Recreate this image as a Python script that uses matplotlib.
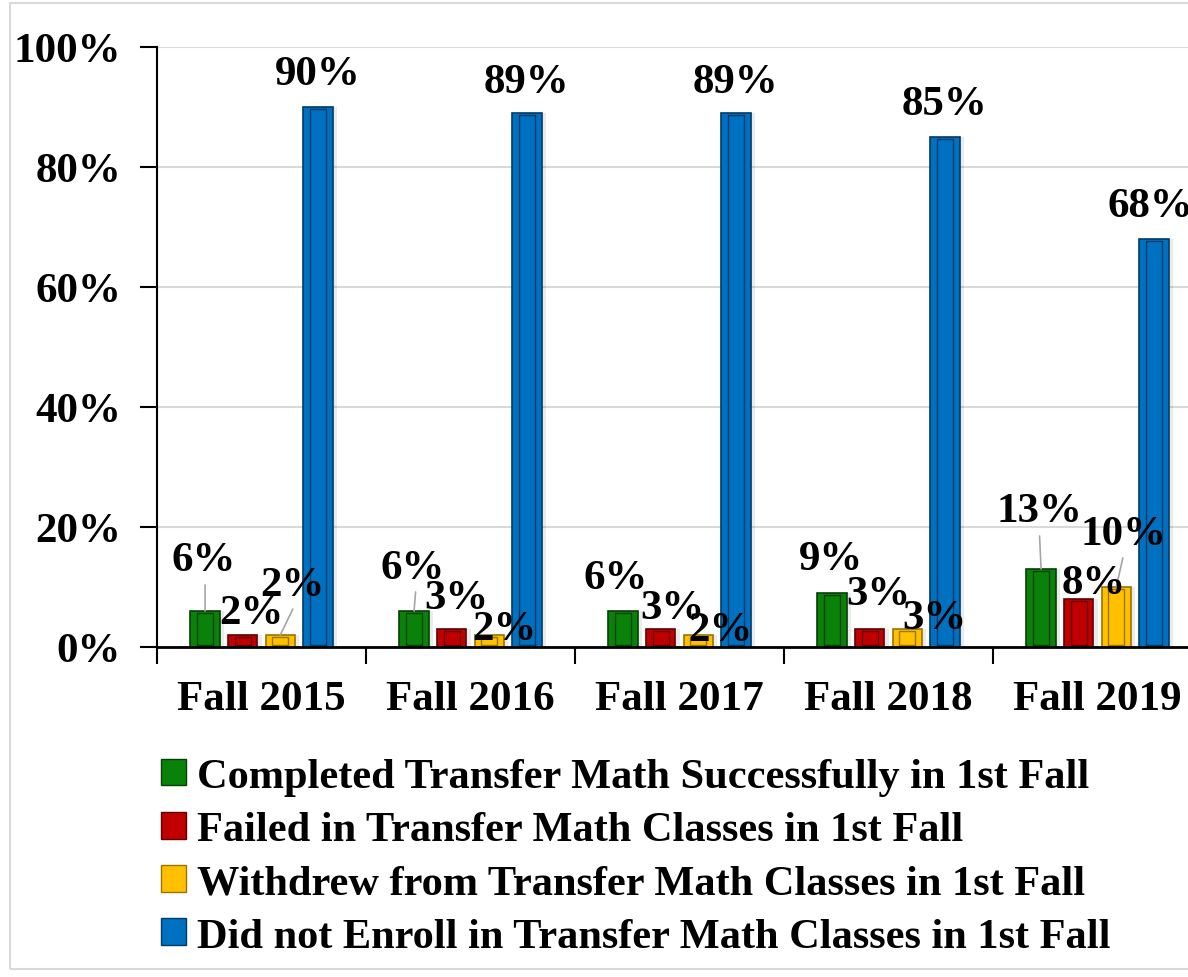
import matplotlib.pyplot as plt
from matplotlib.patches import Rectangle, Patch
import numpy as np

# data (percent)
years = ['Fall 2015', 'Fall 2016', 'Fall 2017', 'Fall 2018', 'Fall 2019']
completed = [6, 6, 6, 9, 13]
failed = [2, 3, 3, 3, 8]
withdrew = [2, 2, 2, 3, 10]
not_enrolled = [90, 89, 89, 85, 68]

series_names = ['Completed Transfer Math Successfully in 1st Fall',
                'Failed in Transfer Math Classes in 1st Fall',
                'Withdrew from Transfer Math Classes in 1st Fall',
                'Did not Enroll in Transfer Math Classes in 1st Fall']
colors = ['#0A820A', '#C00000', '#FFC000', '#0070C0']
edges = ['#054005', '#600000', '#9A7400', '#003A66']

# label offsets in pixels from the bar top (dx, dy)
label_offsets = [
    [(-1, 51), (9, 22), (12, 50), (0, 33)],
    [(-1, 43), (5, 31), (15, 6), (0, 31)],
    [(-7, 33), (12, 21), (22, 5), (0, 31)],
    [(-1, 34), (9, 35), (27, 11), (0, 33)],
    [(-2, 58), (15, 16), (7, 53), (-4, 33)],
]
# leader lines: (group, series) -> start offset from the bar top
leaders = {(0, 0): (0, 26), (1, 0): (1.5, 19), (0, 2): (12.5, 26),
           (4, 0): (-1.5, 33), (4, 2): (6.5, 29)}

plt.rcParams['font.family'] = ['Liberation Serif', 'DejaVu Serif']
plt.rcParams['font.weight'] = 'bold'
fs = 31

fig = plt.figure(figsize=(11.88, 9.78), dpi=100)
fig.patches.append(Rectangle((10 / 1188, 8 / 978), 1.2, 966 / 978, transform=fig.transFigure,
                             fill=False, edgecolor='#D9D9D9', linewidth=1.5))
ax = fig.add_axes([157 / 1188, 1 - 648 / 978, 1045 / 1188, 600 / 978])

values = [completed, failed, withdrew, not_enrolled]
x = np.arange(len(years))
step = 0.18
width = 0.14
for s, vals in enumerate(values):
    pos = x + (s - 1.5) * step
    # soft shadow to the right
    ax.bar(pos + 0.02, vals, width, color='#000000', alpha=0.08, zorder=2)
    ax.bar(pos, vals, width, color=colors[s], edgecolor=edges[s], linewidth=1.2, zorder=3)
    # inner bevel
    ax.bar(pos, np.array(vals) - 0.6, width * 0.55, bottom=0.3, color='none',
           edgecolor=edges[s], linewidth=1.0, zorder=4)
    for i, v in enumerate(vals):
        dx, dy = label_offsets[i][s]
        ax.annotate(f'{v}%', (pos[i], v), xytext=(dx, dy), textcoords='offset pixels',
                    ha='center', va='center', fontsize=fs, fontweight='bold', zorder=6)
        if (i, s) in leaders:
            ax.annotate('', (pos[i], v), xytext=leaders[(i, s)], textcoords='offset pixels',
                        arrowprops=dict(arrowstyle='-', color='#A6A6A6', lw=1.2,
                                        shrinkA=0, shrinkB=0), zorder=5)

ax.set_xlim(-0.5, len(years) - 0.5)
ax.set_ylim(0, 100)
ax.set_yticks(range(0, 101, 20))
ax.set_yticklabels([f'{t}%' for t in range(0, 101, 20)], fontsize=fs, fontweight='bold')
ax.set_xticks(x)
ax.set_xticklabels(years, fontsize=fs, fontweight='bold')
ax.set_xticks(np.arange(len(years) + 1) - 0.5, minor=True)
ax.tick_params(axis='x', which='major', length=0, pad=24)
ax.tick_params(axis='x', which='minor', length=12, width=1.5, direction='out')
ax.tick_params(axis='y', length=12, width=1.5, pad=14)
ax.yaxis.grid(True, color='#D9D9D9', linewidth=1.5, zorder=0)
ax.set_axisbelow(True)
for sp in ['top', 'right']:
    ax.spines[sp].set_visible(False)
ax.spines['left'].set_linewidth(1.5)
ax.spines['bottom'].set_linewidth(2)
ax.spines['bottom'].set_zorder(7)

handles = [Patch(facecolor=colors[s], edgecolor=edges[s]) for s in range(4)]
fig.legend(handles, series_names, loc='upper left', bbox_to_anchor=(144 / 1188, 1 - 742 / 978),
           frameon=False, prop={'weight': 'bold', 'size': 30.5},
           handlelength=0.6, handleheight=0.6, handletextpad=0.25, labelspacing=0.36,
           borderaxespad=0)

fig.savefig('out.png', dpi=100)
